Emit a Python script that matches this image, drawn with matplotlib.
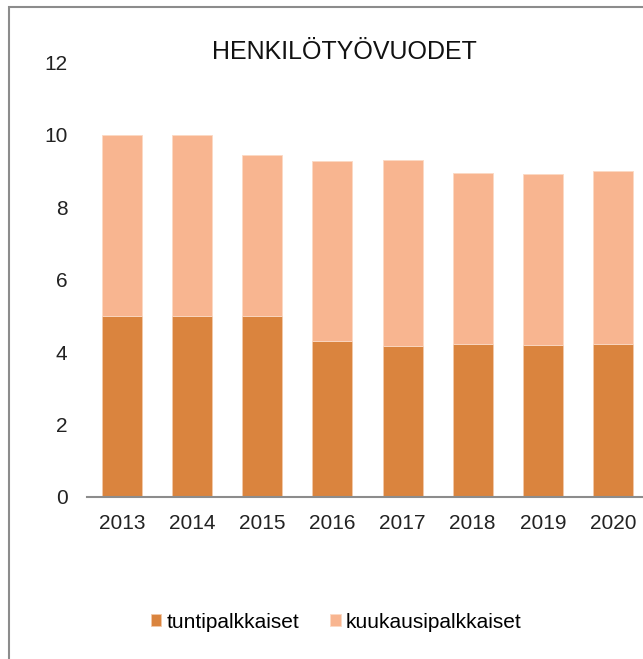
"""Stacked bar chart: henkilötyövuodet 2013-2020."""

import matplotlib.pyplot as plt
from matplotlib.patches import Rectangle

years = ["2013", "2014", "2015", "2016", "2017", "2018", "2019", "2020"]
tuntipalkkaiset = [5.0, 5.0, 5.0, 4.32, 4.18, 4.22, 4.21, 4.22]
kuukausipalkkaiset = [5.0, 5.0, 4.45, 4.95, 5.13, 4.74, 4.71, 4.78]

DARK = "#DA843E"
LIGHT = "#F8B590"

plt.rcParams["font.family"] = ["Liberation Sans", "DejaVu Sans"]

fig = plt.figure(figsize=(6.43, 6.59), dpi=100)

# outer chart frame (right and bottom edges fall outside the picture)
fig.patches.append(Rectangle((9 / 643, -0.1), 1.2, 1 - 7 / 659 + 0.1,
                             transform=fig.transFigure, fill=False,
                             edgecolor="#8C8C8C", linewidth=1.5))

ax = fig.add_axes([87 / 643, (659 - 497) / 659, 561 / 643, 434.4 / 659])

x = range(len(years))
ax.bar(x, tuntipalkkaiset, width=0.57, color=DARK, edgecolor="#F2C9A8",
       linewidth=0.6, label="tuntipalkkaiset")
ax.bar(x, kuukausipalkkaiset, width=0.57, bottom=tuntipalkkaiset,
       color=LIGHT, edgecolor="#FBD9C4", linewidth=0.6,
       label="kuukausipalkkaiset")

ax.set_xlim(-0.5, len(years) - 0.5)
ax.set_ylim(0, 12)
ax.set_yticks(range(0, 13, 2))
ax.set_xticks(list(x))
ax.set_xticklabels(years)
ax.tick_params(axis="both", length=0, labelsize=15, colors="#222222")
ax.tick_params(axis="y", pad=14)
ax.tick_params(axis="x", pad=12)

for side in ("top", "right", "left"):
    ax.spines[side].set_visible(False)
ax.spines["bottom"].set_color("#8C8C8C")
ax.spines["bottom"].set_linewidth(1.5)

fig.text(344 / 643, 1 - 52 / 659, "HENKILÖTYÖVUODET", ha="center",
         va="center", fontsize=18, color="#111111")

fig.legend(loc="center", bbox_to_anchor=(336 / 643, 1 - 622 / 659), ncol=2,
           frameon=False, fontsize=15, handlelength=0.5, handleheight=0.5,
           handletextpad=0.25, columnspacing=1.5)

fig.savefig("out.png", dpi=100)
